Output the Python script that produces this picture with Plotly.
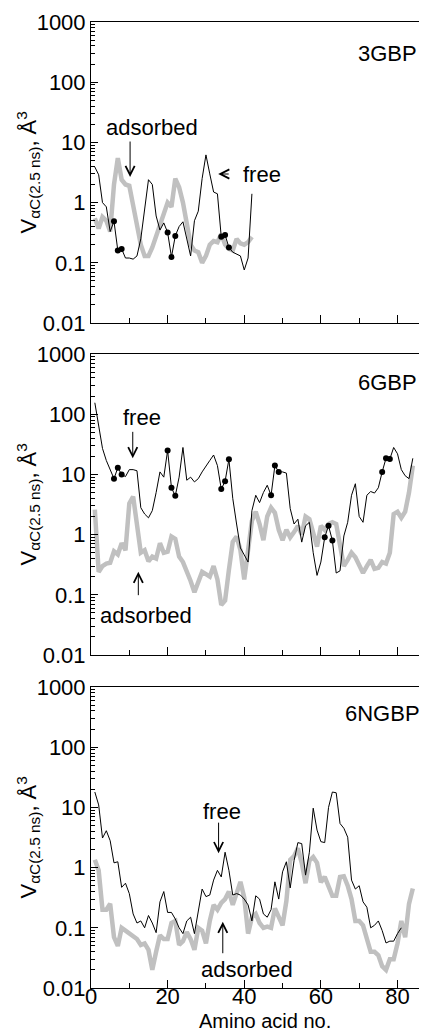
import plotly.graph_objects as go

# residue numbers
res_3gbp = list(range(1, 43))
res_6gbp = list(range(1, 85))
res_6ngbp_free = list(range(1, 82))
res_6ngbp_ads = list(range(1, 85))

# V_aC(2.5 ns), A^3
free_3gbp = [3.9, 2.9, 1.0, 0.85, 0.33, 0.49, 0.16, 0.17, 0.12, 0.12,
             0.115, 0.13, 0.25, 0.8, 2.4, 2.0, 0.6, 0.35, 0.46, 0.32,
             0.125, 0.28, 0.4, 0.48, 0.25, 0.13, 0.5, 0.72, 2.5, 6.2,
             3.0, 1.5, 1.4, 0.27, 0.29, 0.18, 0.15, 0.14, 0.13, 0.076,
             0.12, 1.4]
ads_3gbp = [0.55, 0.37, 0.58, 0.5, 0.33, 2.0, 5.5, 2.4, 2.0, 1.9,
            0.9, 0.4, 0.2, 0.13, 0.13, 0.18, 0.28, 0.38, 0.6, 1.0,
            0.85, 2.5, 1.8, 1.0, 0.45, 0.2, 0.16, 0.15, 0.1, 0.13,
            0.2, 0.23, 0.22, 0.3, 0.2, 0.17, 0.16, 0.25, 0.21, 0.2,
            0.22, 0.27]
dots_3gbp = [6, 7, 8, 20, 21, 22, 34, 35, 36]

free_6gbp = [155, 70, 27, 17, 12, 8.5, 12.9, 10, 9.2, 12,
             12, 11.5, 2.8, 2.2, 1.9, 2.5, 5, 11, 9, 25,
             6, 4.4, 9, 28, 8, 9, 7.5, 8.5, 11, 14,
             17, 21, 14, 5.7, 7.7, 17.8, 4.0, 1.5, 0.6, 0.46,
             0.35, 2.5, 4.5, 3.4, 5, 6.6, 4.5, 14, 11, 11,
             10.5, 2.7, 1.5, 1.8, 0.75, 1.4, 1.6, 0.5, 0.21, 0.35,
             0.9, 1.4, 0.8, 0.23, 0.25, 0.95, 1.6, 4.5, 7.0, 2.0,
             1.6, 4.5, 5.2, 4.9, 6, 11, 18.5, 18, 28, 22,
             12, 9.5, 8.5, 18.5]
ads_6gbp = [2.6, 0.24, 0.3, 0.33, 0.34, 0.53, 0.47, 0.72, 0.55, 3.3,
            4.3, 1.5, 0.5, 0.55, 0.36, 0.43, 0.4, 0.72, 0.5, 0.52,
            0.93, 0.85, 0.43, 0.35, 0.25, 0.17, 0.11, 0.17, 0.24, 0.22,
            0.2, 0.3, 0.18, 0.068, 0.08, 0.26, 0.76, 0.93, 0.55, 0.18,
            0.5, 1.7, 2.4, 1.5, 0.81, 2.0, 2.8, 2.3, 1.2, 0.81,
            1.2, 0.9, 1.1, 1.4, 1.0, 2.0, 1.8, 1.1, 0.63, 1.4,
            1.2, 1.5, 1.6, 1.5, 0.62, 0.3, 0.38, 0.5, 0.42, 0.3,
            0.23, 0.3, 0.38, 0.27, 0.28, 0.35, 0.33, 0.5, 2.2, 2.4,
            1.9, 2.4, 5, 14]
dots_6gbp = [6, 7, 8, 20, 21, 22, 34, 35, 36, 47, 48, 49, 61, 62, 63, 76, 77, 78]

free_6ngbp = [18, 11, 3.1, 4.1, 2.8, 1.2, 1.25, 0.47, 0.55, 0.37,
              0.17, 0.12, 0.13, 0.1, 0.16, 0.12, 0.083, 0.27, 0.4, 0.18,
              0.18, 0.14, 0.1, 0.08, 0.13, 0.15, 0.08, 0.18, 0.44, 0.33,
              0.35, 0.62, 0.9, 0.7, 1.8, 0.9, 0.35, 0.37, 0.35, 0.3,
              0.24, 0.13, 0.34, 0.3, 0.17, 0.15, 0.2, 0.58, 0.3, 0.85,
              1.25, 0.46, 1.3, 2.6, 2.5, 0.75, 1.8, 9.7, 4.2, 2.7,
              2.6, 10, 18, 17.5, 5.4, 4.5, 3.2, 0.62, 0.44, 0.5,
              0.27, 0.22, 0.1, 0.11, 0.13, 0.09, 0.056, 0.06, 0.06, 0.08,
              0.1]
ads_6ngbp = [1.35, 0.9, 0.2, 0.2, 0.25, 0.07, 0.05, 0.1, 0.09, 0.08,
             0.07, 0.065, 0.052, 0.055, 0.043, 0.02, 0.04, 0.075, 0.065, 0.065,
             0.12, 0.13, 0.052, 0.06, 0.085, 0.065, 0.043, 0.1, 0.09, 0.055,
             0.13, 0.24, 0.2, 0.26, 0.3, 0.4, 0.24, 0.4, 0.58, 0.32,
             0.08, 0.15, 0.17, 0.12, 0.1, 0.105, 0.1, 0.21, 0.15, 0.11,
             0.28, 1.35, 1.55, 2.1, 1.2, 0.55, 1.3, 1.5, 1.2, 0.57,
             0.7, 0.46, 0.34, 0.34, 0.7, 0.72, 0.5, 0.3, 0.13, 0.13,
             0.11, 0.066, 0.04, 0.04, 0.035, 0.023, 0.02, 0.03, 0.03, 0.055,
             0.13, 0.07, 0.25, 0.45]
dots_6ngbp = []

names = ["3GBP", "6GBP", "6NGBP"]

GRAY = "#c0c0c0"
FONT = "Liberation Sans, Arial, sans-serif"
OFF = 8  # page body margin, the figure starts 8px in
W, H = 427 - OFF, 1032 - OFF
LEFT = 91 - OFF

# panel pixel rows (top, bottom) of the plot areas, in page pixels
rows = [(22, 323), (354, 655), (687, 988)]
domains = [[1 - (b - OFF) / H, 1 - (t - OFF) / H] for t, b in rows]

panels = [
    (res_3gbp, free_3gbp, res_3gbp, ads_3gbp, dots_3gbp),
    (res_6gbp, free_6gbp, res_6gbp, ads_6gbp, dots_6gbp),
    (res_6ngbp_free, free_6ngbp, res_6ngbp_ads, ads_6ngbp, dots_6ngbp),
]

fig = go.Figure()
for i, (xf, yf, xa, ya, dots) in enumerate(panels, start=1):
    xr = "x" if i == 1 else "x%d" % i
    yr = "y" if i == 1 else "y%d" % i
    fig.add_trace(go.Scatter(x=xa, y=ya, mode="lines", xaxis=xr, yaxis=yr,
                             line=dict(color=GRAY, width=4.5), showlegend=False))
    fig.add_trace(go.Scatter(x=xf, y=yf, mode="lines", xaxis=xr, yaxis=yr,
                             line=dict(color="black", width=1), showlegend=False))
    if dots:
        dy = [yf[xf.index(d)] for d in dots]
        fig.add_trace(go.Scatter(x=dots, y=dy, mode="markers", xaxis=xr, yaxis=yr,
                                 marker=dict(color="black", size=6), showlegend=False))
    # empty trace so the right-hand tick axis gets drawn
    fig.add_trace(go.Scatter(x=[None], y=[None], xaxis=xr, yaxis="y%d" % (i + 3),
                             showlegend=False, hoverinfo="skip"))

    xkey = "xaxis" if i == 1 else "xaxis%d" % i
    ykey = "yaxis" if i == 1 else "yaxis%d" % i
    fig.layout[xkey] = dict(
        domain=[0, 1], anchor=yr, range=[0, 87.7], dtick=20, tick0=0,
        ticks="inside", ticklen=8, tickcolor="black", showline=True,
        linecolor="black", linewidth=1, mirror=True, showgrid=False,
        zeroline=False, showticklabels=(i == 3), automargin=False,
        ticklabelstandoff=-11,
        tickfont=dict(size=22, color="black", family=FONT),
        minor=dict(dtick=10, ticks="inside", ticklen=5, tickcolor="black"),
    )
    fig.layout[ykey] = dict(
        domain=domains[i - 1], anchor=xr, type="log", range=[-2, 3], dtick=1,
        exponentformat="none", ticks="inside", ticklen=7, tickcolor="black",
        showline=True, linecolor="black", linewidth=1, showgrid=False,
        zeroline=False, automargin=False,
        tickfont=dict(size=22, color="black", family=FONT),
        minor=dict(dtick="D1", ticks="inside", ticklen=4, tickcolor="black"),
    )
    fig.layout["yaxis%d" % (i + 3)] = dict(
        overlaying=yr, anchor=xr, side="right", type="log", range=[-2, 3],
        dtick=1, ticks="inside", ticklen=4, tickcolor="black",
        showticklabels=False, showline=False, showgrid=False, zeroline=False,
    )

# text and arrows (y positions in log10 units on the log axes)
labels = [
    # panel, text, x, log y, xanchor
    (1, "adsorbed", 15.9, 1.24, "center"),
    (1, "free", 39.2, 0.475, "left"),
    (1, "3GBP", 77.3, 2.485, "center"),
    (2, "free", 13.3, 1.953, "center"),
    (2, "adsorbed", 14.4, -1.336, "center"),
    (2, "6GBP", 77.3, 2.523, "center"),
    (3, "free", 34.2, 0.929, "center"),
    (3, "adsorbed", 40.65, -1.70, "center"),
    (3, "6NGBP", 76.2, 2.568, "center"),
]
arrows = [
    # panel, head x, head log y, tail dx, tail dy (px)
    (1, 10.2, 0.425, 0, -37),
    (1, 33.2, 0.475, 12, 0),
    (2, 10.9, 1.267, 0, -28),
    (2, 12.35, -0.616, 0, 25),
    (3, 33.3, 0.24, 0, -32),
    (3, 34.4, -0.899, 0, 33),
]
for p, t, x, y, xa in labels:
    fig.add_annotation(text=t, x=x, y=y, xref="x" if p == 1 else "x%d" % p,
                       yref="y" if p == 1 else "y%d" % p, xanchor=xa,
                       yanchor="middle", showarrow=False,
                       font=dict(size=22, color="black", family=FONT))
for p, x, y, dx, dy in arrows:
    fig.add_annotation(text="", x=x, y=y, xref="x" if p == 1 else "x%d" % p,
                       yref="y" if p == 1 else "y%d" % p, ax=dx, ay=dy,
                       showarrow=True, arrowhead=5, arrowsize=1.8,
                       arrowwidth=1, arrowcolor="black", standoff=0)

# y titles
for d in domains:
    fig.add_annotation(text="V<sub>\u03b1C(2.5 ns)</sub>, \u00c5<sup>3</sup>",
                       xref="paper", yref="paper", x=(28 - 91) / 336,
                       y=(d[0] + d[1]) / 2, textangle=-90, showarrow=False,
                       xanchor="center", yanchor="middle",
                       font=dict(size=22, color="black", family=FONT))

fig.add_annotation(text="Amino acid no.", xref="paper", yref="paper",
                   x=(265 - 91) / 336, y=0, showarrow=False,
                   xanchor="center", yanchor="bottom", yshift=-2,
                   font=dict(size=20, color="black", family=FONT))

fig.update_layout(width=W, height=H, margin=dict(l=LEFT, r=0, t=0, b=0),
                  paper_bgcolor="white", plot_bgcolor="white",
                  font=dict(family=FONT, color="black"))

fig.write_html("out.html")
